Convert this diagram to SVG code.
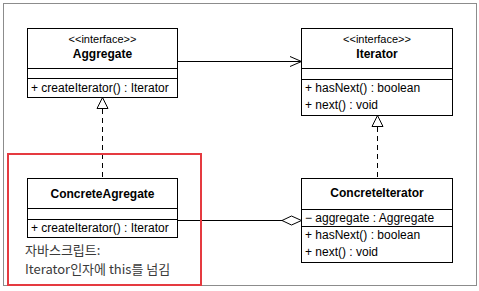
<svg xmlns="http://www.w3.org/2000/svg" width="479" height="291" viewBox="0 0 479 291">
<defs>
<style>
.box{fill:#fff;stroke:#000;stroke-width:1}
.ln{stroke:#000;stroke-width:1;fill:none}
.dash{stroke:#000;stroke-width:1;fill:none;stroke-dasharray:5 4}
.st{font-family:"Liberation Sans",Arial,sans-serif;font-size:11px;fill:#000;text-anchor:middle}
.nm{font-family:"Liberation Sans",Arial,sans-serif;font-size:12px;font-weight:bold;fill:#000;text-anchor:middle}
.mb{font-family:"Liberation Sans",Arial,sans-serif;font-size:12px;fill:#000}
.kr{font-family:"Noto Sans CJK KR","Noto Sans",sans-serif;font-size:13px;fill:#3a3a3a}
</style>
</defs>
<rect x="0" y="0" width="479" height="291" fill="#fff"/>
<rect x="3.5" y="3.5" width="473" height="282" fill="none" stroke="#8c8c8c" stroke-width="1"/>

<g id="connectors">
<line class="ln" x1="177.5" y1="61.5" x2="301.5" y2="61.5"/>
<polyline class="ln" points="290,56.5 301.5,61.5 290,66.5"/>
<line class="dash" x1="102.5" y1="109" x2="102.5" y2="178"/>
<polygon class="box" points="102.5,97.5 97,108.5 108,108.5"/>
<line class="dash" x1="377.5" y1="127" x2="377.5" y2="178"/>
<polygon class="box" points="377.5,115.5 372,126.5 383,126.5"/>
<line class="ln" x1="177.5" y1="220.5" x2="282" y2="220.5"/>
<polygon class="box" points="282,220.5 291.5,216 301.5,220.5 291.5,225"/>
</g>

<g id="Aggregate">
<rect class="box" x="27.5" y="28.5" width="150" height="69"/>
<line class="ln" x1="27.5" y1="68.5" x2="177.5" y2="68.5"/>
<line class="ln" x1="27.5" y1="78.5" x2="177.5" y2="78.5"/>
<text class="st" x="102.5" y="43">&lt;&lt;interface&gt;&gt;</text>
<text class="nm" x="102.5" y="58">Aggregate</text>
<text class="mb" x="31" y="92">+ createIterator() : Iterator</text>
</g>

<g id="Iterator">
<rect class="box" x="301.5" y="28.5" width="151" height="87"/>
<line class="ln" x1="301.5" y1="68.5" x2="452.5" y2="68.5"/>
<line class="ln" x1="301.5" y1="79.5" x2="452.5" y2="79.5"/>
<text class="st" x="377" y="43">&lt;&lt;interface&gt;&gt;</text>
<text class="nm" x="377" y="58">Iterator</text>
<text class="mb" x="305" y="92">+ hasNext() : boolean</text>
<text class="mb" x="305" y="109">+ next() : void</text>
</g>

<g id="ConcreteAgregate">
<rect class="box" x="27.5" y="178.5" width="150" height="59"/>
<line class="ln" x1="27.5" y1="208.5" x2="177.5" y2="208.5"/>
<line class="ln" x1="27.5" y1="219.5" x2="177.5" y2="219.5"/>
<text class="nm" x="102.5" y="198">ConcreteAgregate</text>
<text class="mb" x="31" y="232">+ createIterator() : Iterator</text>
</g>

<g id="ConcreteIterator">
<rect class="box" x="301.5" y="178.5" width="151" height="84"/>
<line class="ln" x1="301.5" y1="209.5" x2="452.5" y2="209.5"/>
<line class="ln" x1="301.5" y1="226.5" x2="452.5" y2="226.5"/>
<text class="nm" x="377" y="197">ConcreteIterator</text>
<text class="mb" x="305" y="222">− aggregate : Aggregate</text>
<text class="mb" x="305" y="239">+ hasNext() : boolean</text>
<text class="mb" x="305" y="256">+ next() : void</text>
</g>

<g id="note">
<rect x="8" y="154" width="193" height="131" fill="none" stroke="#e53a40" stroke-width="2"/>
<text class="kr" x="25" y="255">자바스크립트:</text>
<text class="kr" x="25" y="274">Iterator인자에 this를 넘김</text>
</g>
</svg>
